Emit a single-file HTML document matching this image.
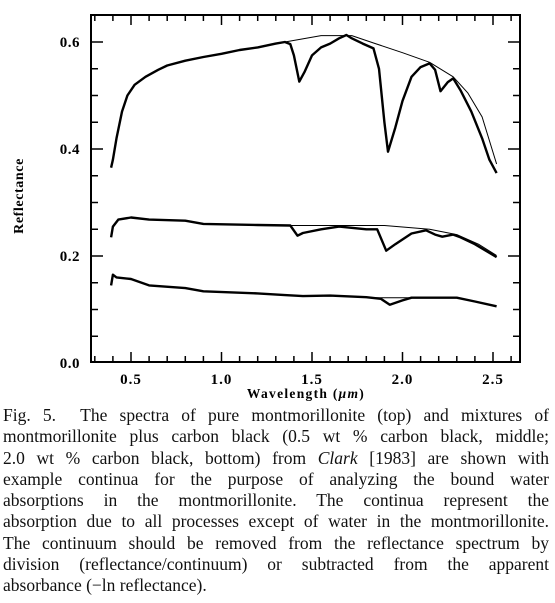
<!DOCTYPE html>
<html><head><meta charset="utf-8"><style>
html,body{margin:0;padding:0;background:#fff;}
body{width:555px;height:603px;position:relative;overflow:hidden;}
#cap{position:absolute;left:3px;top:405px;width:546px;font-family:"Liberation Serif",serif;font-size:17.5px;line-height:21.3px;color:#111;}
#cap div{text-align:justify;text-align-last:justify;white-space:nowrap;}
#cap div.last{text-align-last:left;}
</style></head><body>
<svg id="chart" width="555" height="405" style="position:absolute;left:0;top:0" font-family="Liberation Serif, serif"></svg>
<div id="cap">
<div>Fig. 5.&nbsp; The spectra of pure montmorillonite (top) and mixtures of</div>
<div>montmorillonite plus carbon black (0.5 wt % carbon black, middle;</div>
<div>2.0 wt % carbon black, bottom) from <i>Clark</i> [1983] are shown with</div>
<div>example continua for the purpose of analyzing the bound water</div>
<div>absorptions in the montmorillonite. The continua represent the</div>
<div>absorption due to all processes except of water in the montmorillonite.</div>
<div>The continuum should be removed from the reflectance spectrum by</div>
<div>division (reflectance/continuum) or subtracted from the apparent</div>
<div class="last">absorbance (&minus;ln reflectance).</div>
</div>
<script>
const xTicks=[0.5,1.0,1.5,2.0,2.5];
const xTickLabels=["0.5","1.0","1.5","2.0","2.5"];
const yTicks=[0.0,0.2,0.4,0.6];
const yTickLabels=["0.0","0.2","0.4","0.6"];
const topW=[0.39,0.40,0.42,0.45,0.48,0.52,0.58,0.65,0.70,0.80,0.90,1.0,1.1,1.2,1.3,1.35,1.38,1.40,1.43,1.46,1.50,1.55,1.60,1.65,1.69,1.72,1.78,1.84,1.87,1.90,1.92,1.96,2.0,2.05,2.10,2.15,2.18,2.21,2.25,2.28,2.32,2.38,2.44,2.48,2.52];
const topR=[0.365,0.38,0.42,0.47,0.50,0.52,0.535,0.548,0.556,0.565,0.572,0.578,0.585,0.590,0.597,0.600,0.596,0.575,0.526,0.545,0.575,0.590,0.597,0.607,0.613,0.607,0.597,0.588,0.55,0.45,0.395,0.44,0.49,0.535,0.553,0.560,0.548,0.508,0.525,0.532,0.51,0.47,0.42,0.38,0.355];
const topContW=[1.35,1.55,1.72,1.85,2.0,2.15,2.28,2.36,2.44,2.52];
const topContR=[0.600,0.612,0.612,0.597,0.580,0.562,0.535,0.505,0.46,0.372];
const midW=[0.39,0.40,0.43,0.50,0.60,0.80,0.90,1.2,1.38,1.42,1.45,1.55,1.65,1.80,1.86,1.91,1.96,2.05,2.13,2.18,2.22,2.28,2.32,2.40,2.52];
const midR=[0.235,0.255,0.268,0.272,0.268,0.266,0.260,0.258,0.257,0.238,0.243,0.250,0.255,0.250,0.250,0.210,0.222,0.242,0.248,0.240,0.236,0.240,0.235,0.222,0.198];
const midContW=[1.35,1.6,1.9,2.15,2.3,2.42,2.52];
const midContR=[0.257,0.257,0.257,0.250,0.240,0.222,0.201];
const botW=[0.39,0.40,0.42,0.50,0.60,0.80,0.90,1.2,1.35,1.45,1.60,1.80,1.88,1.93,2.0,2.05,2.30,2.40,2.52];
const botR=[0.145,0.165,0.160,0.157,0.145,0.140,0.134,0.130,0.127,0.125,0.126,0.123,0.120,0.109,0.117,0.122,0.122,0.115,0.106];
const botContW=[1.85,2.05];
const botContR=[0.122,0.122];

const L=91,R=520,T=15,B=362;
const xs=w=>131+(w-0.5)*181;
const ys=r=>363-r*535;
const svg=document.getElementById('chart');
const NS='http://www.w3.org/2000/svg';
function mk(tag,attrs,parent){const e=document.createElementNS(NS,tag);for(const k in attrs)e.setAttribute(k,attrs[k]);(parent||svg).appendChild(e);return e;}

const frame=mk('rect',{x:L,y:T,width:R-L,height:B-T,fill:'none',stroke:'#000','stroke-width':2});



for(let i=3;i<=26;i++){const w=i/10;const x=xs(w);const major=Math.abs(w*2-Math.round(w*2))<1e-6;const len=major?10:6;
 const t1=mk('line',{x1:x,x2:x,y1:B,y2:B-len,stroke:'#000','stroke-width':1.5});
 
 
 const t2=mk('line',{x1:x,x2:x,y1:T,y2:T+len,stroke:'#000','stroke-width':1.5});
 
 }
for(let i=1;i<=12;i++){const r=i*0.05;const y=ys(r);const major=i%4===0;const len=major?12:7;
 const t1=mk('line',{x1:L,x2:L+len,y1:y,y2:y,stroke:'#000','stroke-width':1.5});
 
 
 const t2=mk('line',{x1:R,x2:R-len,y1:y,y2:y,stroke:'#000','stroke-width':1.5});
 
 }
xTicks.forEach((w,i)=>{const t=mk('text',{x:xs(w),y:384,'text-anchor':'middle','font-size':15,'font-weight':'bold','letter-spacing':'1'});t.textContent=xTickLabels[i];
 
 });
yTicks.forEach((r,i)=>{const t=mk('text',{x:80,y:ys(r)+5,'text-anchor':'end','font-size':15,'font-weight':'bold','letter-spacing':'0.5'});t.textContent=yTickLabels[i];
 
 });
const xt=mk('text',{x:306,y:398,'text-anchor':'middle','font-size':13.5,'font-weight':'bold','letter-spacing':'1.3'});
xt.innerHTML='Wavelength (<tspan font-style="italic">μm</tspan>)';


const yt=mk('text',{x:0,y:0,'text-anchor':'middle','font-size':14,'font-weight':'bold','letter-spacing':'0.6',transform:'translate(23,196) rotate(-90)'});
yt.textContent='Reflectance';



function line(W,Rr,sw,name){const d=W.map((w,i)=>(i?'L':'M')+xs(w).toFixed(1)+','+ys(Rr[i]).toFixed(1)).join('');
 const p=mk('path',{d:d,fill:'none',stroke:'#000','stroke-width':sw,'stroke-linejoin':'round'});
 
 }
line(topContW,topContR,1,'continuum-top');
line(midContW,midContR,1,'continuum-middle');
line(botContW,botContR,1,'continuum-bottom');
line(topW,topR,2.4,'spectrum-pure-montmorillonite');
line(midW,midR,2.4,'spectrum-0.5wt-carbon');
line(botW,botR,2.4,'spectrum-2.0wt-carbon');
</script>
</body></html>
